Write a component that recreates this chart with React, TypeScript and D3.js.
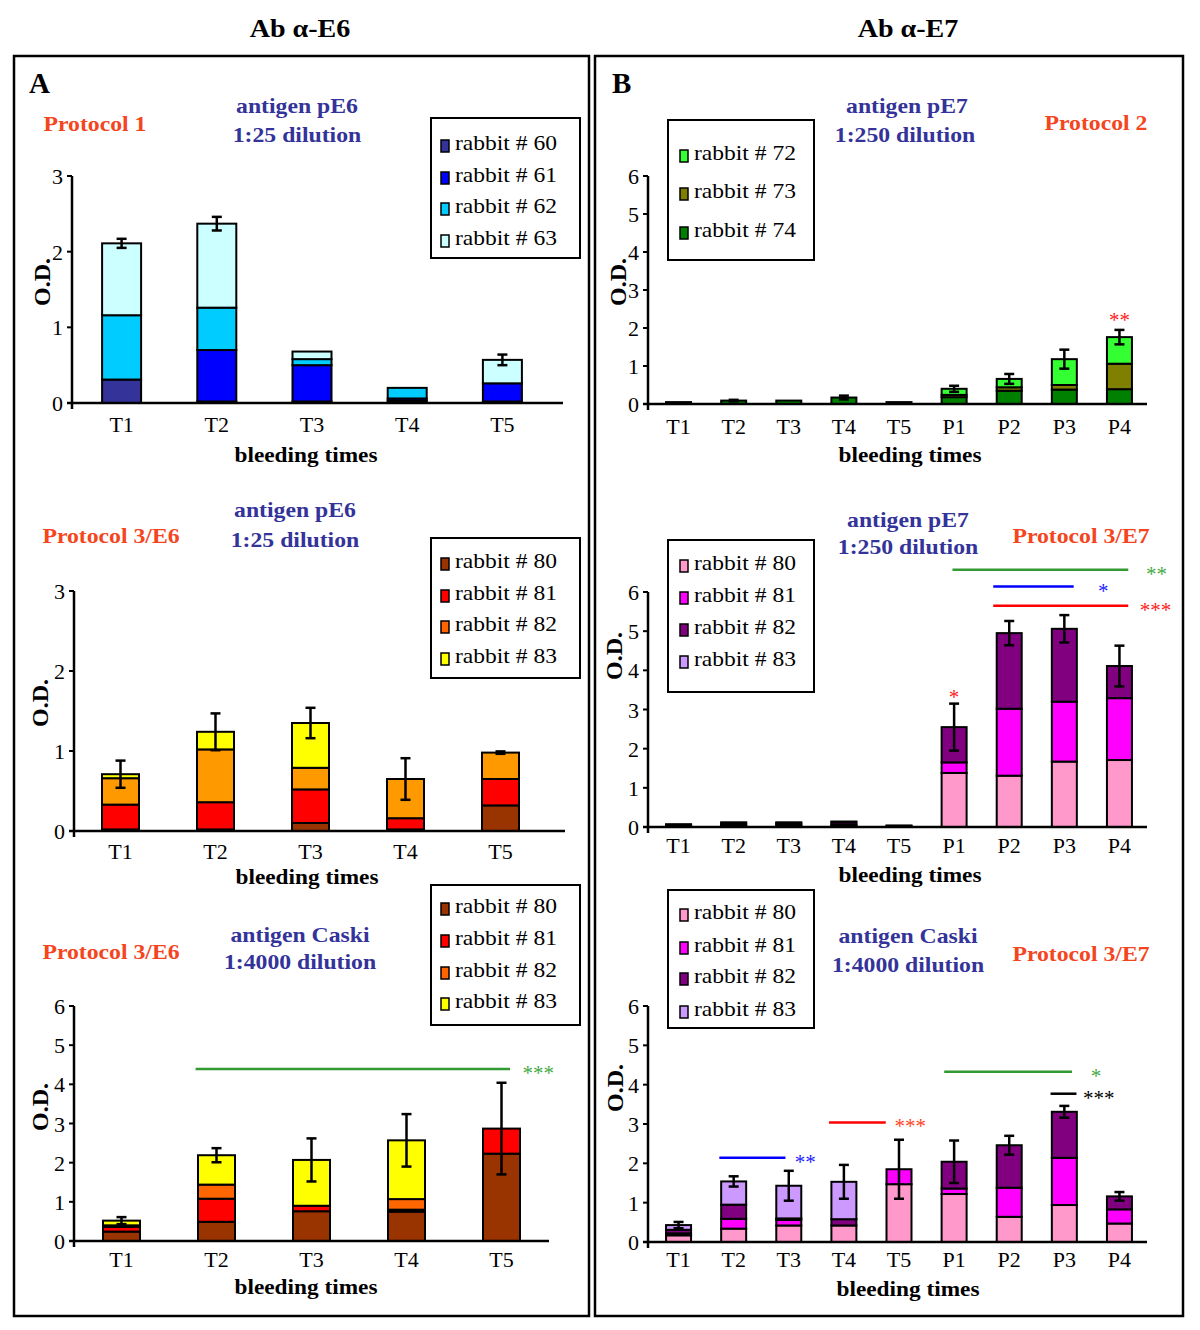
import React from "react";
import * as d3 from "d3";

// ---------- DATA ----------
const catsE6 = ["T1", "T2", "T3", "T4", "T5"];
const catsE7 = ["T1", "T2", "T3", "T4", "T5", "P1", "P2", "P3", "P4"];

// Panel A (top): antigen pE6 1:25, Protocol 1
const a1Names = ["rabbit # 60", "rabbit # 61", "rabbit # 62", "rabbit # 63"];
const a1R60 = [0.31, 0.02, 0.02, 0.03, 0.02];
const a1R61 = [0.0, 0.68, 0.48, 0.03, 0.24];
const a1R62 = [0.85, 0.56, 0.08, 0.14, 0.0];
const a1R63 = [0.95, 1.11, 0.1, 0.0, 0.31];
const a1Err = [0.06, 0.09, 0, 0, 0.07];

// Panel A (middle): antigen pE6 1:25, Protocol 3/E6
const a2Names = ["rabbit # 80", "rabbit # 81", "rabbit # 82", "rabbit # 83"];
const a2R80 = [0.02, 0.02, 0.1, 0.02, 0.32];
const a2R81 = [0.31, 0.34, 0.42, 0.14, 0.33];
const a2R82 = [0.33, 0.66, 0.27, 0.49, 0.33];
const a2R83 = [0.05, 0.22, 0.56, 0.0, 0.0];
const a2Err = [0.17, 0.23, 0.19, 0.26, 0.015];

// Panel A (bottom): antigen Caski 1:4000, Protocol 3/E6
const a3R80 = [0.24, 0.49, 0.76, 0.75, 2.23];
const a3R81 = [0.12, 0.59, 0.14, 0.05, 0.64];
const a3R82 = [0.04, 0.36, 0.0, 0.27, 0.0];
const a3R83 = [0.12, 0.75, 1.17, 1.5, 0.0];
const a3Err = [0.09, 0.18, 0.55, 0.67, 1.17];

// Panel B (top): antigen pE7 1:250, Protocol 2
const b1Names = ["rabbit # 72", "rabbit # 73", "rabbit # 74"];
const b1R74 = [0.05, 0.09, 0.09, 0.17, 0.05, 0.18, 0.35, 0.38, 0.39];
const b1R73 = [0, 0, 0, 0, 0, 0.06, 0.09, 0.12, 0.67];
const b1R72 = [0, 0, 0, 0, 0, 0.16, 0.22, 0.68, 0.7];
const b1Err = [0, 0.02, 0, 0.05, 0, 0.08, 0.13, 0.25, 0.19];

// Panel B (middle): antigen pE7 1:250, Protocol 3/E7
const b2Names = ["rabbit # 80", "rabbit # 81", "rabbit # 82", "rabbit # 83"];
const b2R80 = [0.02, 0.03, 0.03, 0.03, 0.01, 1.38, 1.31, 1.67, 1.71];
const b2R81 = [0.02, 0.03, 0.03, 0.03, 0.01, 0.27, 1.71, 1.53, 1.58];
const b2R82 = [0.02, 0.04, 0.04, 0.06, 0.02, 0.9, 1.93, 1.86, 0.82];
const b2R83 = [0.01, 0.02, 0.02, 0.02, 0, 0, 0, 0, 0];
const b2Err = [0, 0, 0, 0, 0, 0.6, 0.31, 0.35, 0.52];

// Panel B (bottom): antigen Caski 1:4000, Protocol 3/E7
const b3R80 = [0.17, 0.34, 0.42, 0.42, 1.47, 1.22, 0.64, 0.94, 0.47];
const b3R81 = [0.05, 0.25, 0.14, 0.0, 0.38, 0.14, 0.74, 1.2, 0.36];
const b3R82 = [0.09, 0.36, 0.04, 0.16, 0.0, 0.68, 1.08, 1.17, 0.33];
const b3R83 = [0.12, 0.59, 0.83, 0.95, 0, 0, 0, 0, 0];
const b3Err = [0.08, 0.13, 0.38, 0.43, 0.75, 0.54, 0.24, 0.15, 0.11];

const ticks3 = [0, 1, 2, 3];
const ticks6 = [0, 1, 2, 3, 4, 5, 6];

// significance bars: from/to/label in category-index units, value in O.D.
const a3Sig = [{ from: 0.78, to: 4.09, labelAt: 4.22, value: 4.39, color: "#339933", label: "***", labelColor: "#44aa44" }];
const b2Sig = [
  { from: 4.97, to: 8.16, labelAt: 8.48, value: 6.57, color: "#339933", label: "**", labelColor: "#44aa44" },
  { from: 5.71, to: 7.17, labelAt: 7.61, value: 6.14, color: "#0000ff", label: "*", labelColor: "#2222ff" },
  { from: 5.71, to: 8.16, labelAt: 8.37, value: 5.65, color: "#ff0000", label: "***", labelColor: "#ff2020" },
];
const b3Sig = [
  { from: 0.74, to: 1.94, labelAt: 2.11, value: 2.14, color: "#0000ff", label: "**", labelColor: "#2222ff" },
  { from: 2.73, to: 3.76, labelAt: 3.92, value: 3.04, color: "#ff0000", label: "***", labelColor: "#ff4422" },
  { from: 4.82, to: 7.14, labelAt: 7.48, value: 4.33, color: "#339933", label: "*", labelColor: "#44aa44" },
  { from: 6.75, to: 7.22, labelAt: 7.34, value: 3.77, color: "#000000", label: "***", labelColor: "#000000" },
];
const b1Marks = [{ at: 8, value: 2.32, label: "**", color: "#ff2020" }];
const b2Marks = [{ at: 5, value: 3.42, label: "*", color: "#ff2020" }];

// ---------- helpers ----------
const FONT = "'Liberation Serif', 'Times New Roman', serif";
const ORANGE = "#f4461e";
const NAVY = "#333399";

function Txt({ x, y, sx = 1, anchor = "middle", size = 22, weight = "normal", fill = "#000", rotate = 0, children }: any) {
  let tr = `translate(${x},${y})`;
  if (rotate) tr += ` rotate(${rotate})`;
  if (sx !== 1) tr += ` scale(${sx},1)`;
  return (
    <text transform={tr} textAnchor={anchor} fontSize={size} fontWeight={weight} fill={fill} fontFamily={FONT}>
      {children}
    </text>
  );
}

function Panel({ cfg }: any) {
  const { cats, series, colors, legendColors, names, errors, yMax, yTicks, xRange, axisX, axisEnd, yBottom, yTop, barW } = cfg;
  const x = d3.scaleBand().domain(cats).range(xRange).paddingInner(0).paddingOuter(0);
  const y = d3.scaleLinear().domain([0, yMax]).range([yBottom, yTop]);
  const cx = (c: string) => (x(c) as number) + x.bandwidth() / 2;
  const idx = d3.scaleLinear().domain([0, cats.length - 1]).range([cx(cats[0]), cx(cats[cats.length - 1])]);
  const keys = series.map((_: any, i: number) => "s" + i);
  const rows = cats.map((c: string, j: number) => {
    const r: any = { cat: c };
    series.forEach((s: number[], i: number) => (r["s" + i] = s[j]));
    return r;
  });
  const stacked = d3.stack().keys(keys)(rows);
  const totals = cats.map((_: string, j: number) => d3.sum(series, (s: number[]) => s[j]));
  const lg = cfg.legend;

  return (
    <g>
      {/* bars */}
      {stacked.map((layer: any, i: number) =>
        layer.map((d: any, j: number) => {
          if (d[1] - d[0] <= 0) return null;
          return (
            <rect
              key={i + "-" + j}
              x={cx(cats[j]) - barW / 2}
              y={y(d[1])}
              width={barW}
              height={y(d[0]) - y(d[1])}
              fill={colors[i]}
              stroke="#000"
              strokeWidth={2}
            />
          );
        })
      )}
      {/* error bars */}
      {errors.map((e: number, j: number) => {
        if (!e) return null;
        const xc = cx(cats[j]);
        const t = totals[j];
        return (
          <g key={"e" + j} stroke="#000" strokeWidth={2.5}>
            <line x1={xc} x2={xc} y1={y(t + e)} y2={y(t - e)} />
            <line x1={xc - 5} x2={xc + 5} y1={y(t + e)} y2={y(t + e)} />
            <line x1={xc - 5} x2={xc + 5} y1={y(t - e)} y2={y(t - e)} />
          </g>
        );
      })}
      {/* axes */}
      <line x1={axisX} x2={axisX} y1={yTop} y2={yBottom + 6} stroke="#000" strokeWidth={2.5} />
      <line x1={axisX - 5} x2={axisEnd} y1={yBottom} y2={yBottom} stroke="#000" strokeWidth={2.5} />
      {yTicks.map((t: number) => (
        <g key={"t" + t}>
          <line x1={axisX - 5} x2={axisX} y1={y(t)} y2={y(t)} stroke="#000" strokeWidth={2} />
          <Txt x={axisX - 9} y={y(t) + 8} anchor="end" size={22}>
            {t}
          </Txt>
        </g>
      ))}
      {cats.map((c: string) => (
        <Txt key={"c" + c} x={cx(c)} y={yBottom + cfg.tickOff} size={22}>
          {c}
        </Txt>
      ))}
      <Txt x={cfg.xLabelX} y={cfg.xLabelY} size={22} weight="bold" sx={1.06}>
        bleeding times
      </Txt>
      <Txt x={cfg.odX} y={cfg.odY} size={24} weight="bold" rotate={-90}>
        O.D.
      </Txt>
      {/* significance */}
      {(cfg.sig || []).map((s: any, k: number) => (
        <g key={"s" + k}>
          <line x1={idx(s.from)} x2={idx(s.to)} y1={y(s.value)} y2={y(s.value)} stroke={s.color} strokeWidth={2.5} />
          <Txt x={idx(s.labelAt)} y={y(s.value) + 11} anchor="start" size={21} fill={s.labelColor}>
            {s.label}
          </Txt>
        </g>
      ))}
      {(cfg.marks || []).map((m: any, k: number) => (
        <Txt key={"m" + k} x={idx(m.at)} y={y(m.value) + 11} size={21} fill={m.color}>
          {m.label}
        </Txt>
      ))}
      {/* legend */}
      <rect x={lg.x} y={lg.y} width={lg.w} height={lg.h} fill="#fff" stroke="#000" strokeWidth={2} />
      {names.map((n: string, i: number) => {
        const order = lg.order ? lg.order[i] : i;
        const b = lg.baselines[i];
        return (
          <g key={"l" + i}>
            <rect x={lg.swX} y={b - 10} width={8} height={12} fill={(legendColors || colors)[order]} stroke="#000" strokeWidth={1.5} />
            <Txt x={lg.textX} y={b} anchor="start" size={22} sx={1.07}>
              {n}
            </Txt>
          </g>
        );
      })}
      {/* headings */}
      {cfg.headings.map((h: any, k: number) => (
        <Txt key={"h" + k} x={h.x} y={h.y} size={21} weight="bold" fill={h.color} sx={1.13}>
          {h.text}
        </Txt>
      ))}
    </g>
  );
}

const panels = [
  {
    cats: catsE6,
    series: [a1R60, a1R61, a1R62, a1R63],
    colors: ["#333399", "#0000ff", "#00ccff", "#ccffff"],
    names: a1Names,
    errors: a1Err,
    yMax: 3, yTicks: ticks3,
    xRange: [74, 550], axisX: 72, axisEnd: 563, yBottom: 403, yTop: 176, barW: 39, tickOff: 29,
    xLabelX: 306, xLabelY: 462, odX: 50, odY: 282,
    legend: { x: 431, y: 118, w: 149, h: 140, swX: 441, textX: 455, baselines: [150, 182, 213, 245] },
    headings: [
      { text: "Protocol 1", x: 95, y: 131, color: ORANGE },
      { text: "antigen pE6", x: 297, y: 113, color: NAVY },
      { text: "1:25 dilution", x: 297, y: 142, color: NAVY },
    ],
  },
  {
    cats: catsE6,
    series: [a2R80, a2R81, a2R82, a2R83],
    colors: ["#993300", "#ff0000", "#ff9900", "#ffff00"],
    legendColors: ["#993300", "#ff0000", "#ff6600", "#ffff00"],
    names: a2Names,
    errors: a2Err,
    yMax: 3, yTicks: ticks3,
    xRange: [73, 548], axisX: 74, axisEnd: 565, yBottom: 831, yTop: 591, barW: 37, tickOff: 28,
    xLabelX: 307, xLabelY: 884, odX: 48, odY: 703,
    legend: { x: 431, y: 538, w: 149, h: 140, swX: 441, textX: 455, baselines: [568, 600, 631, 663] },
    headings: [
      { text: "Protocol 3/E6", x: 111, y: 543, color: ORANGE },
      { text: "antigen pE6", x: 295, y: 517, color: NAVY },
      { text: "1:25 dilution", x: 295, y: 547, color: NAVY },
    ],
  },
  {
    cats: catsE6,
    series: [a3R80, a3R81, a3R82, a3R83],
    colors: ["#993300", "#ff0000", "#ff6600", "#ffff00"],
    names: a2Names,
    errors: a3Err,
    yMax: 6, yTicks: ticks6,
    xRange: [74, 549], axisX: 74, axisEnd: 549, yBottom: 1241, yTop: 1006, barW: 37, tickOff: 26,
    xLabelX: 306, xLabelY: 1294, odX: 48, odY: 1107,
    legend: { x: 431, y: 885, w: 149, h: 140, swX: 441, textX: 455, baselines: [913, 945, 977, 1008] },
    headings: [
      { text: "Protocol 3/E6", x: 111, y: 959, color: ORANGE },
      { text: "antigen Caski", x: 300, y: 942, color: NAVY },
      { text: "1:4000 dilution", x: 300, y: 969, color: NAVY },
    ],
    sig: a3Sig,
  },
  {
    cats: catsE7,
    series: [b1R74, b1R73, b1R72],
    colors: ["#008000", "#808000", "#33ff33"],
    names: b1Names,
    errors: b1Err,
    yMax: 6, yTicks: ticks6,
    xRange: [651, 1147], axisX: 648, axisEnd: 1147, yBottom: 404, yTop: 176, barW: 25, tickOff: 30,
    xLabelX: 910, xLabelY: 462, odX: 626, odY: 282,
    legend: { x: 668, y: 120, w: 146, h: 140, swX: 680, textX: 694, baselines: [160, 198, 237], order: [2, 1, 0] },
    headings: [
      { text: "antigen pE7", x: 907, y: 113, color: NAVY },
      { text: "1:250 dilution", x: 905, y: 142, color: NAVY },
      { text: "Protocol 2", x: 1096, y: 130, color: ORANGE },
    ],
    marks: b1Marks,
  },
  {
    cats: catsE7,
    series: [b2R80, b2R81, b2R82, b2R83],
    colors: ["#ff99cc", "#ff00ff", "#800080", "#cc99ff"],
    names: b2Names,
    errors: b2Err,
    yMax: 6, yTicks: ticks6,
    xRange: [651, 1147], axisX: 648, axisEnd: 1147, yBottom: 827, yTop: 592, barW: 25, tickOff: 26,
    xLabelX: 910, xLabelY: 882, odX: 622, odY: 656,
    legend: { x: 668, y: 540, w: 146, h: 152, swX: 680, textX: 694, baselines: [570, 602, 634, 666] },
    headings: [
      { text: "antigen pE7", x: 908, y: 527, color: NAVY },
      { text: "1:250 dilution", x: 908, y: 554, color: NAVY },
      { text: "Protocol 3/E7", x: 1081, y: 543, color: ORANGE },
    ],
    sig: b2Sig,
    marks: b2Marks,
  },
  {
    cats: catsE7,
    series: [b3R80, b3R81, b3R82, b3R83],
    colors: ["#ff99cc", "#ff00ff", "#800080", "#cc99ff"],
    names: b2Names,
    errors: b3Err,
    yMax: 6, yTicks: ticks6,
    xRange: [651, 1147], axisX: 648, axisEnd: 1147, yBottom: 1242, yTop: 1006, barW: 25, tickOff: 25,
    xLabelX: 908, xLabelY: 1296, odX: 623, odY: 1088,
    legend: { x: 668, y: 890, w: 146, h: 138, swX: 680, textX: 694, baselines: [919, 952, 983, 1016] },
    headings: [
      { text: "antigen Caski", x: 908, y: 943, color: NAVY },
      { text: "1:4000 dilution", x: 908, y: 972, color: NAVY },
      { text: "Protocol 3/E7", x: 1081, y: 961, color: ORANGE },
    ],
    sig: b3Sig,
  },
];

export default function App() {
  return (
    <svg
      width={1200}
      height={1330}
      viewBox="0 0 1200 1330"
      style={{ position: "absolute", left: 0, top: 0, display: "block", background: "#fff" }}
    >
      <rect x={0} y={0} width={1200} height={1330} fill="#fff" />
      <Txt x={300} y={37} size={26} weight="bold" sx={1.08}>Ab α-E6</Txt>
      <Txt x={908} y={37} size={26} weight="bold" sx={1.08}>Ab α-E7</Txt>
      <rect x={14} y={56} width={575} height={1260} fill="none" stroke="#000" strokeWidth={2.5} />
      <rect x={595} y={56} width={588} height={1260} fill="none" stroke="#000" strokeWidth={2.5} />
      <Txt x={29} y={93} anchor="start" size={29} weight="bold">A</Txt>
      <Txt x={612} y={93} anchor="start" size={29} weight="bold">B</Txt>
      {panels.map((p, i) => (
        <Panel key={i} cfg={p} />
      ))}
    </svg>
  );
}
